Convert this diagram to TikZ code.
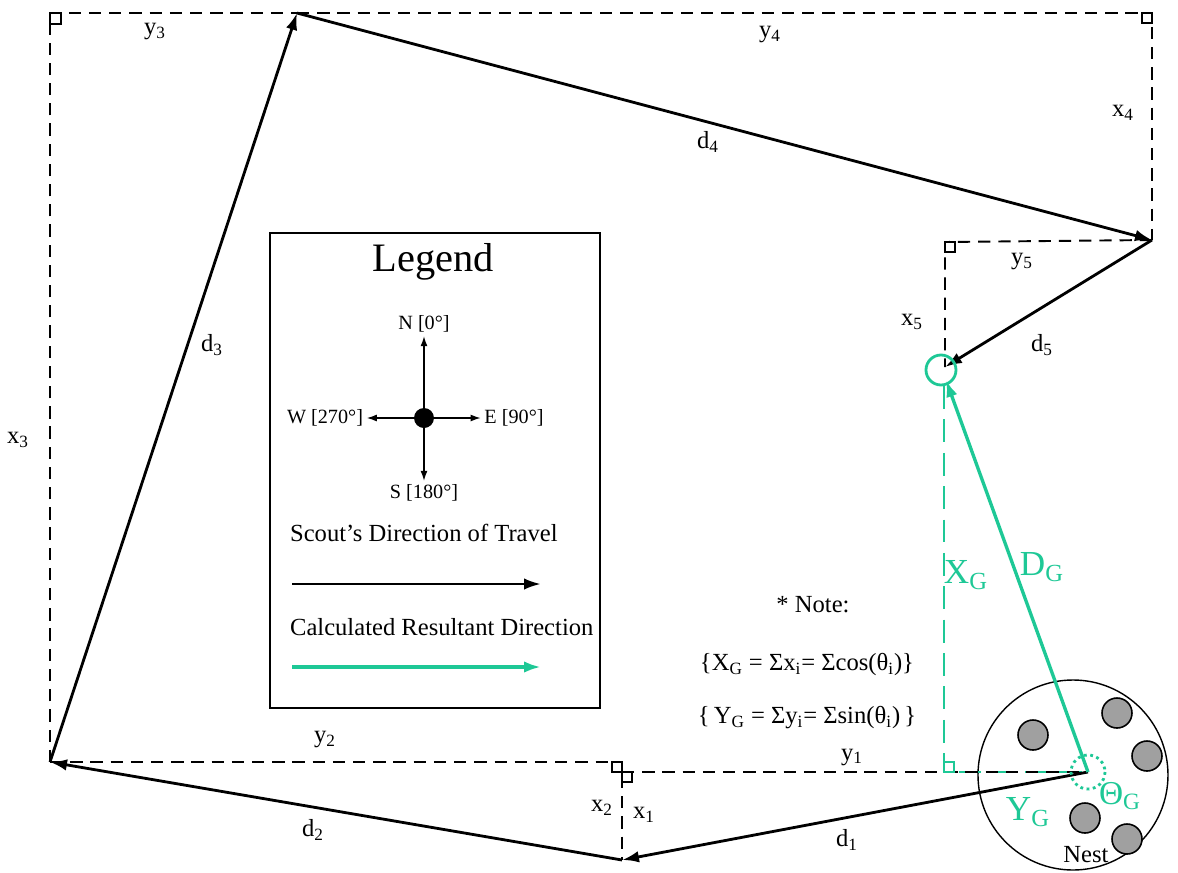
\documentclass[tikz,border=0pt]{standalone}
\usepackage{fontspec}
\setmainfont{Liberation Serif}
\usetikzlibrary{arrows.meta}
\definecolor{resgreen}{RGB}{30,200,150}
\definecolor{eggray}{RGB}{160,160,160}
\newcommand{\vsub}[2]{#1\textsubscript{#2}}

\begin{document}
\begin{tikzpicture}[x=0.02cm,y=-0.02cm,
travel/.style={-{Latex[length=3.4mm,width=2.3mm]},line width=1.6pt},
result/.style={-{Latex[length=3.4mm,width=2.3mm]},line width=1.9pt,resgreen},
proj/.style={line width=1.1pt,dash pattern=on 7pt off 4.5pt},
resdash/.style={line width=1.6pt,resgreen,dash pattern=on 13pt off 6pt},
sq/.style={line width=0.9pt},
needle/.style={-{Latex[length=2mm,width=1.4mm]},line width=0.7pt},
lbl/.style={font=\fontsize{14}{16}\selectfont,inner sep=1pt},
glbl/.style={font=\fontsize{20}{24}\selectfont,text=resgreen,inner sep=1pt},
small/.style={font=\fontsize{11.5}{13}\selectfont,inner sep=2pt}]
\useasboundingbox (0,0) rectangle (1178,873);

% path of the scout
\coordinate (nest) at (1088,772);
\coordinate (p1) at (622,860);
\coordinate (p2) at (50,762);
\coordinate (p3) at (297,13);
\coordinate (p4) at (1152,240);
\coordinate (p5) at (945,367);
\coordinate (gtip) at (946,380);
% corners of the components
\coordinate (c1) at (622,772);
\coordinate (c2) at (622,762);
\coordinate (c3) at (50,13);
\coordinate (c4) at (1152,13);
\coordinate (c5) at (945,242);
\coordinate (cg) at (944,772);
\coordinate (cgtop) at (944,386);

% nest
\draw[line width=0.8pt] (1073,775) circle[radius=95];
\foreach \p in {(1033,735),(1117,713),(1147,756),(1085,818),(1127,839)}
  \draw[fill=eggray,line width=0.9pt] \p circle[radius=15];

% components
\draw[resdash] (cgtop) -- (cg) -- (nest);
\draw[proj] (c1) -- (nest);
\draw[proj] (p2) -- (c2) -- (p1);
\draw[proj] (p2) -- (c3) -- (p3);
\draw[proj] (p3) -- (c4) -- (p4);
\draw[proj] (p4) -- (c5) -- (p5);
\draw[sq] (c3) rectangle ++(11,11);
\draw[sq] (c4) rectangle ++(-10,10);
\draw[sq] (c5) rectangle ++(10,10);
\draw[sq] (c2) rectangle ++(-10,10);
\draw[sq] (c1) rectangle ++(10,10);
\draw[sq,resgreen,line width=1.3pt] (cg) rectangle ++(10,-10);

% legs
\draw[travel] (nest) -- (p1);
\draw[travel] (p1) -- (p2);
\draw[travel] (p2) -- (p3);
\draw[travel] (p3) -- (p4);
\draw[travel] (p4) -- (p5);

% resultant
\draw[result] (nest) -- (gtip);
\draw[resgreen,line width=1.6pt] (941,370) circle[radius=15];
\draw[resgreen,line width=1.6pt,dotted] (nest) circle[radius=17];

% labels
\node[lbl] (ly1) at (852,757) {\vsub{y}{1}};
\node[lbl] (ly2) at (325,740) {\vsub{y}{2}};
\node[lbl] (ly3) at (155,32) {\vsub{y}{3}};
\node[lbl] (ly4) at (770,35) {\vsub{y}{4}};
\node[lbl] (ly5) at (1022,262) {\vsub{y}{5}};
\node[lbl] (lx1) at (644,815) {\vsub{x}{1}};
\node[lbl] (lx2) at (602,808) {\vsub{x}{2}};
\node[lbl] (lx3) at (18,440) {\vsub{x}{3}};
\node[lbl] (lx4) at (1123,113) {\vsub{x}{4}};
\node[lbl] (lx5) at (912,322) {\vsub{x}{5}};
\node[lbl] (ld1) at (847,840) {\vsub{d}{1}};
\node[lbl] (ld2) at (313,830) {\vsub{d}{2}};
\node[lbl] (ld3) at (212,345) {\vsub{d}{3}};
\node[lbl] (ld4) at (708,142) {\vsub{d}{4}};
\node[lbl] (ld5) at (1042,345) {\vsub{d}{5}};
\node[glbl] (lxg) at (966,575) {\vsub{X}{G}};
\node[glbl] (ldg) at (1042,567) {\vsub{D}{G}};
\node[glbl] (lyg) at (1028,812) {\vsub{Y}{G}};
\node[glbl,font=\fontsize{19}{22}\selectfont] (ltg) at (1120,796) {\vsub{Θ}{G}};
\node[lbl] (lnest) at (1086,855) {Nest};

% note
\node[lbl] (note) at (813,605) {* Note:};
\node[lbl] (sumx) at (807,665) {\{\vsub{X}{G} = Σ\vsub{x}{i}= Σcos(\vsub{θ}{i})\}};
\node[lbl] (sumy) at (807,718) {\{\,\vsub{Y}{G} = Σ\vsub{y}{i}= Σsin(\vsub{θ}{i})\,\}};

% legend
\draw[line width=1pt] (270,233) rectangle (600,708);
\node[font=\fontsize{23}{26}\selectfont] (legend) at (433,262) {Legend};
\node[circle,fill,inner sep=0pt,minimum size=0.4cm] (hub) at (424,418) {};
\node[small] (north) at (424,324) {N [0°]};
\node[small] (south) at (424,493) {S [180°]};
\node[small] (west) at (325,418) {W [270°]};
\node[small] (east) at (514,418) {E [90°]};
\draw[needle] (hub.center) -- (north);
\draw[needle] (hub.center) -- (south);
\draw[needle] (hub.center) -- (west);
\draw[needle] (hub.center) -- (east);
\node[lbl,anchor=west] (scout) at (288,533) {Scout’s Direction of Travel};
\node[lbl,anchor=west] (calc) at (288,627) {Calculated Resultant Direction};
\coordinate (tl) at (292,584);
\coordinate (tr) at (541,584);
\coordinate (gl) at (292,667);
\coordinate (gr) at (541,667);
\draw[travel] (tl) -- (tr);
\draw[result,line width=2.4pt] (gl) -- (gr);
\end{tikzpicture}
\end{document}
